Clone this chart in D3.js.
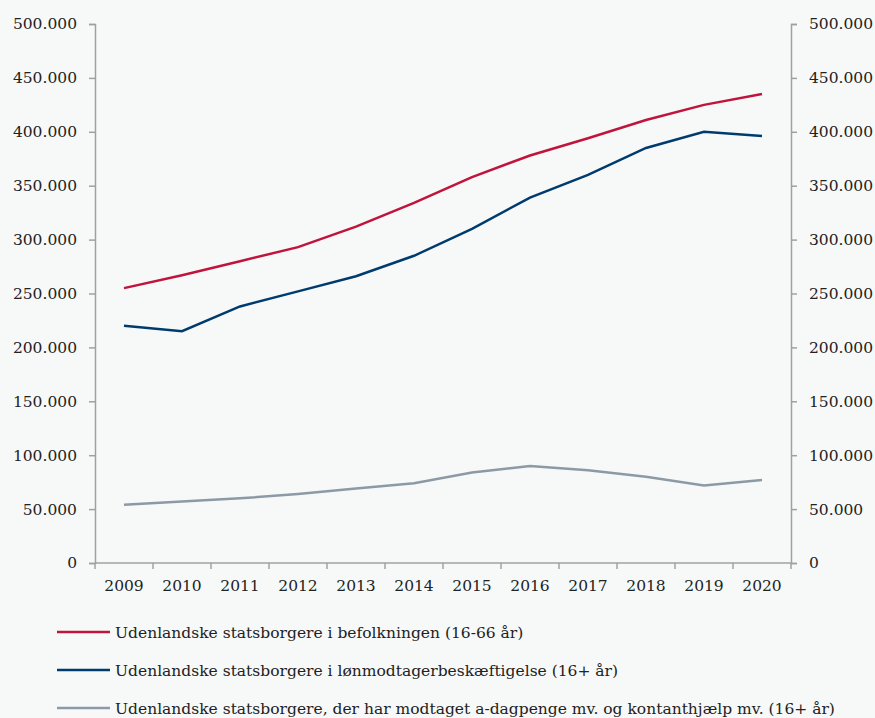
<!DOCTYPE html>
<html>
  <head>
    <meta charset="utf-8" />
    <script src="https://d3js.org/d3.v7.min.js"></script>
    <style>
      body { margin: 0; background: #f7f9f9; }
      svg { display: block; font-family: "DejaVu Serif", serif; }
    </style>
  </head>
  <body>
    <svg id="chart" width="875" height="718"></svg>
    <script>
      // data
      const years = ["2009", "2010", "2011", "2012", "2013", "2014", "2015", "2016", "2017", "2018", "2019", "2020"];
      const befolkning = [255000, 267000, 280000, 293000, 312000, 334000, 358000, 378000, 394000, 411000, 425000, 435000];
      const beskaeftigelse = [220000, 215000, 238000, 252000, 266000, 285000, 310000, 339000, 360000, 385000, 400000, 396000];
      const ydelser = [54000, 57000, 60000, 64000, 69000, 74000, 84000, 90000, 86000, 80000, 72000, 77000];
      const yTicks = [0, 50000, 100000, 150000, 200000, 250000, 300000, 350000, 400000, 450000, 500000];

      const series = [
        { name: "Udenlandske statsborgere i befolkningen (16-66 år)", values: befolkning, color: "#c0143c" },
        { name: "Udenlandske statsborgere i lønmodtagerbeskæftigelse (16+ år)", values: beskaeftigelse, color: "#003b6e" },
        { name: "Udenlandske statsborgere, der har modtaget a-dagpenge mv. og kontanthjælp mv. (16+ år)", values: ydelser, color: "#8c9aa5" }
      ];

      const svg = d3.select("#chart");
      const margin = { top: 24, right: 84, bottom: 155, left: 95 };
      const width = 875 - margin.left - margin.right;
      const height = 718 - margin.top - margin.bottom;
      const g = svg.append("g")
        .attr("transform", "translate(" + margin.left + "," + margin.top + ")");

      const x = d3.scaleBand().domain(years).range([0, width]);
      const y = d3.scaleLinear().domain([0, 500000]).range([height, 0]);

      // thousands with a dot, Danish style
      const fmt = d => d === 0 ? "0" : d3.format(",")(d).replace(/,/g, ".");

      const axisColor = "#a0a0a0";
      const styleAxis = sel => {
        sel.select(".domain").attr("stroke", axisColor).attr("stroke-width", 1.5);
        sel.selectAll(".tick line").attr("stroke", axisColor).attr("stroke-width", 1.5);
        sel.selectAll(".tick text").attr("fill", "#222").style("font-size", "15.5px")
          .style("font-family", "DejaVu Serif, serif");
      };

      g.append("g")
        .call(d3.axisLeft(y).tickValues(yTicks).tickFormat(fmt).tickSizeOuter(0).tickSize(6).tickPadding(12))
        .call(styleAxis);

      g.append("g")
        .attr("transform", "translate(" + width + ",0)")
        .call(d3.axisRight(y).tickValues(yTicks).tickFormat(fmt).tickSizeOuter(0).tickSize(6).tickPadding(12))
        .call(styleAxis);

      // x axis: ticks sit on the band edges, labels in the middle
      const xAxis = g.append("g").attr("transform", "translate(0," + height + ")");
      xAxis.append("line")
        .attr("x1", 0).attr("x2", width)
        .attr("stroke", axisColor).attr("stroke-width", 1.5);
      const edges = years.map(d => x(d)).concat([width]);
      xAxis.selectAll("line.tick")
        .data(edges)
        .join("line")
        .attr("class", "tick")
        .attr("x1", d => d).attr("x2", d => d)
        .attr("y1", 0).attr("y2", 6)
        .attr("stroke", axisColor).attr("stroke-width", 1.5);
      xAxis.selectAll("text")
        .data(years)
        .join("text")
        .attr("x", d => x(d) + x.bandwidth() / 2)
        .attr("y", 28)
        .attr("text-anchor", "middle")
        .attr("fill", "#222")
        .style("font-size", "15.5px")
        .text(d => d);

      const line = d3.line()
        .x((d, i) => x(years[i]) + x.bandwidth() / 2)
        .y(d => y(d));

      g.selectAll("path.series")
        .data(series)
        .join("path")
        .attr("class", "series")
        .attr("fill", "none")
        .attr("stroke", d => d.color)
        .attr("stroke-width", 2.5)
        .attr("d", d => line(d.values));

      // legend
      const legend = svg.append("g").attr("transform", "translate(57,632)");
      const item = legend.selectAll("g")
        .data(series)
        .join("g")
        .attr("transform", (d, i) => "translate(0," + i * 38 + ")");
      item.append("line")
        .attr("x1", 0).attr("x2", 53)
        .attr("stroke", d => d.color)
        .attr("stroke-width", 2.5);
      item.append("text")
        .attr("x", 58)
        .attr("y", 5.5)
        .attr("fill", "#222")
        .style("font-size", "15.5px")
        .text(d => d.name);
    </script>
  </body>
</html>
